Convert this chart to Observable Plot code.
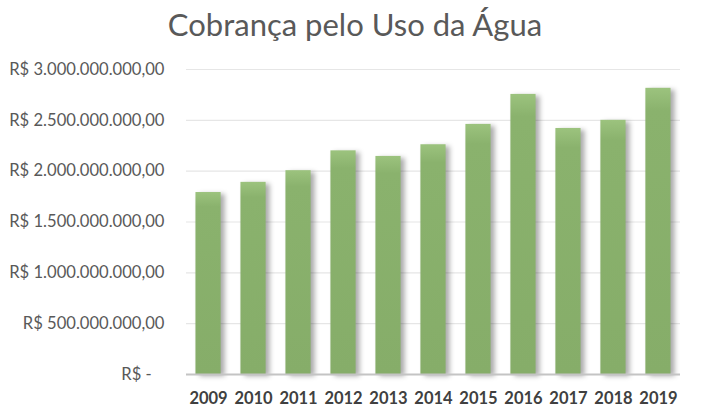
<!DOCTYPE html>
<html>
<head>
<meta charset="utf-8">
<script src="https://cdn.jsdelivr.net/npm/d3@7"></script>
<script src="https://cdn.jsdelivr.net/npm/@observablehq/plot@0.6"></script>
<style>
  body { margin: 0; background: #fff; font-family: Lato, "Open Sans", sans-serif; }
  #title { height: 52px; line-height: 48px; text-align: center; font-size: 31px; color: #595959; font-family: Lato, sans-serif; }
  g[aria-label="bar"] rect { filter: drop-shadow(4px 2px 2.5px rgba(0,0,0,0.33)); }
</style>
</head>
<body>
<div id="title">Cobrança pelo Uso da Água</div>
<div id="chart"></div>
<script>
const years = ["2009","2010","2011","2012","2013","2014","2015","2016","2017","2018","2019"];
const values = [1.79e9, 1.89e9, 2.005e9, 2.2e9, 2.145e9, 2.26e9, 2.46e9, 2.755e9, 2.42e9, 2.5e9, 2.815e9];
const yTicks = [0, 5e8, 1e9, 1.5e9, 2e9, 2.5e9, 3e9];

const data = years.map((y, i) => ({year: y, value: values[i]}));

function fmt(v) {
  if (v === 0) return "R$ -\u00a0\u00a0\u00a0";
  const s = d3.format(",.2f")(v).replace(/,/g, "#").replace(".", ",").replace(/#/g, ".");
  return "R$ " + s;
}

const chart = Plot.plot({
  width: 710,
  height: 362,
  marginTop: 17,
  marginBottom: 40,
  marginLeft: 186,
  marginRight: 30,
  style: { fontFamily: "Lato, sans-serif", fontSize: "16px", color: "#595959", background: "#fff" },
  x: { domain: years, paddingInner: 0.44, paddingOuter: 0.21, round: false, label: null },
  y: { domain: [0, 3e9], label: null },
  marks: [
    () => {
      const ns = "http://www.w3.org/2000/svg";
      const defs = document.createElementNS(ns, "defs");
      defs.innerHTML = '<linearGradient id="barGrad" x1="0" y1="0" x2="0" y2="1">' +
        '<stop offset="0" stop-color="#9cc37e"/>' +
        '<stop offset="0.08" stop-color="#8ab26d"/>' +
        '<stop offset="1" stop-color="#86ad69"/></linearGradient>';
      return defs;
    },
    Plot.gridY(yTicks.slice(1), { stroke: "#e6e6e6", strokeOpacity: 1, strokeWidth: 1.2 }),
    Plot.barY(data, { x: "year", y: "value", fill: "url(#barGrad)" }),
    Plot.ruleY([0], { stroke: "#c4c4c4", strokeWidth: 2 }),
    Plot.axisY({ ticks: yTicks, tickFormat: fmt, tickSize: 0, tickPadding: 22, fontSize: 16.6, fill: "#595959", label: null }),
    Plot.axisX({ tickSize: 0, tickPadding: 18, fontSize: 16.5, fontWeight: "bold", fill: "#404040", label: null })
  ]
});
document.getElementById("chart").appendChild(chart);
</script>
</body>
</html>
